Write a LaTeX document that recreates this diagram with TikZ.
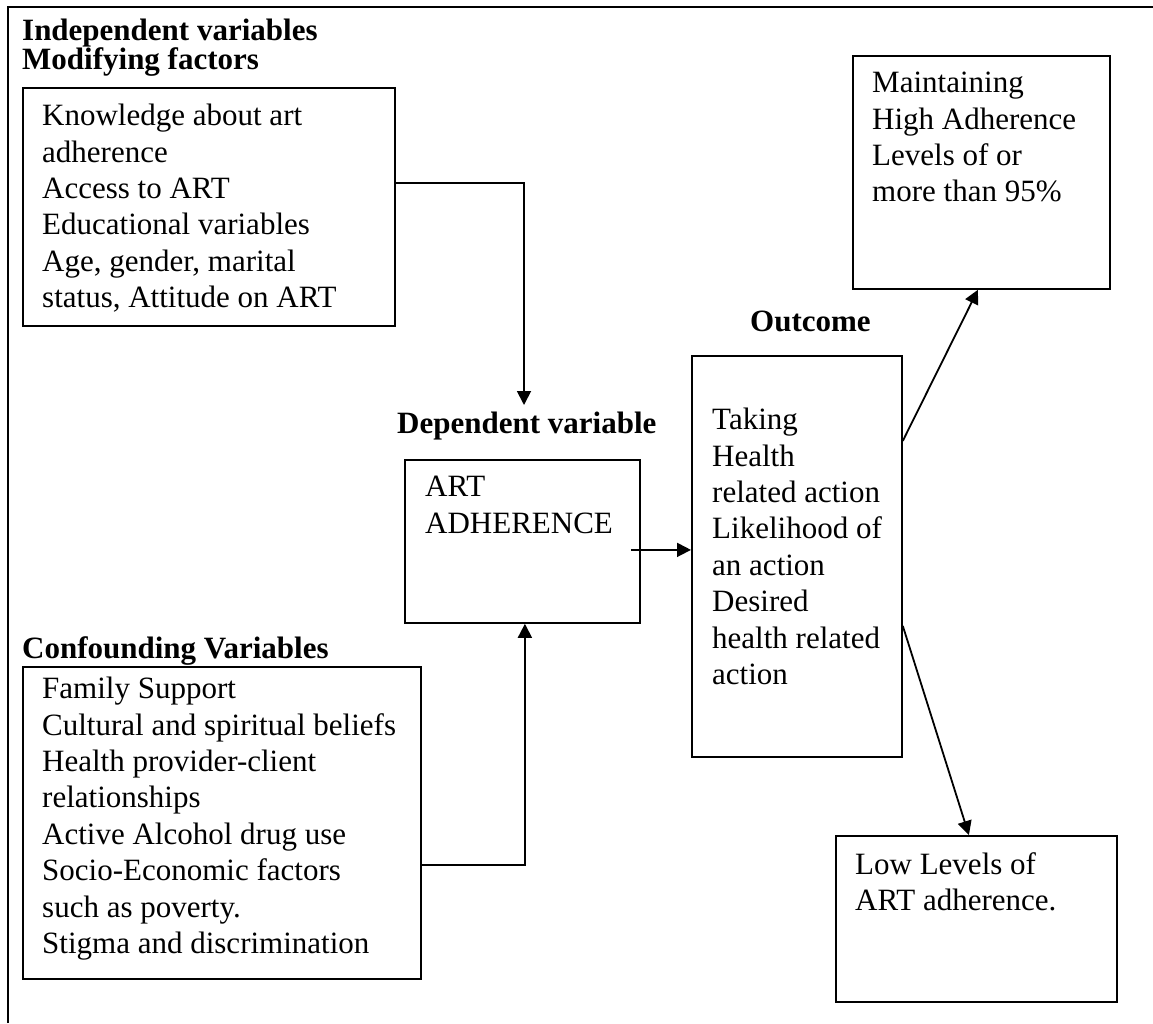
\documentclass[tikz,border=0pt]{standalone}
\usepackage{fontspec}
\setmainfont{Liberation Serif}
\usetikzlibrary{arrows.meta}
\begin{document}
\begin{tikzpicture}[x=1pt,y=-1pt,
 boxnode/.style={draw, line width=1.8pt, anchor=north west, inner sep=0pt},
 txt/.style={anchor=north west, inner sep=0pt, align=left, font=\fontsize{31}{36.4}\selectfont},
 head/.style={anchor=north west, inner sep=0pt, align=left, font=\fontsize{31}{28.5}\selectfont\bfseries},
 conn/.style={line width=1.8pt, -{Triangle[length=14pt,width=14pt]}},
 framestyle/.style={line width=2.5pt}]
\useasboundingbox (0,0) rectangle (1153,1023);
\draw[framestyle] (8,1023) -- (8,7) -- (1153,7);

% headings
\node[head] (hind) at (22,19) {Independent variables\\Modifying factors};
\node[head] (hdep) at (397,412) {Dependent variable};
\node[head] (hout) at (750,311) {Outcome};
\node[head] (hconf) at (22,636) {Confounding Variables};

% boxes
\node[boxnode, minimum width=372pt, minimum height=238pt] (boxA) at (22,87) {};
\node[txt] (tA) at (42,104) {Knowledge about art\\adherence\\Access to ART\\Educational variables\\Age, gender, marital\\status, Attitude on ART};

\node[boxnode, minimum width=235pt, minimum height=163pt] (art) at (404,459) {};
\node[txt] (tart) at (425,476) {ART\\ADHERENCE};

\node[boxnode, minimum width=210pt, minimum height=401pt] (out) at (691,355) {};
\node[txt] (tout) at (712,408) {Taking\\Health\\related action\\Likelihood of\\an action\\Desired\\health related\\action};

\node[boxnode, minimum width=257pt, minimum height=233pt] (maint) at (852,55) {};
\node[txt] (tmaint) at (872,72) {Maintaining\\High Adherence\\Levels of or\\more than 95\%};

\node[boxnode, minimum width=281pt, minimum height=166pt] (low) at (835,835) {};
\node[txt] (tlow) at (855,852) {Low Levels of\\ART adherence.};

\node[boxnode, minimum width=398pt, minimum height=312pt] (conf) at (22,666) {};
\node[txt] (tconf) at (42,677) {Family Support\\Cultural and spiritual beliefs\\Health provider-client\\relationships\\Active Alcohol drug use\\Socio-Economic factors\\such as poverty.\\Stigma and discrimination};

% connectors
\coordinate (tipA) at (524,405);
\draw[conn] ([yshift=24pt]boxA.east) -| (tipA);
\draw[conn] ([yshift=-42pt]conf.east) -| ([xshift=2.5pt]art.south);
\draw[conn] ([xshift=-10pt,yshift=-8.5pt]art.east) -- ([yshift=6.5pt]out.west);
\draw[conn] ([yshift=115.5pt]out.east) -- ([xshift=-3.5pt]maint.south);
\draw[conn] ([yshift=-69.5pt]out.east) -- ([xshift=-7.5pt]low.north);
\end{tikzpicture}
\end{document}
